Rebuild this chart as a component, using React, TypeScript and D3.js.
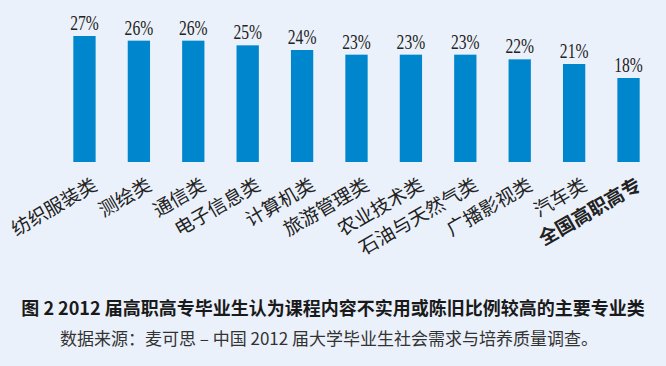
import React from 'react'
import * as d3 from 'd3'

const categories = ['纺织服装类', '测绘类', '通信类', '电子信息类', '计算机类', '旅游管理类', '农业技术类', '石油与天然气类', '广播影视类', '汽车类', '全国高职高专']
const values = [27, 26, 26, 25, 24, 23, 23, 23, 22, 21, 18]
const title = '图 2 2012 届高职高专毕业生认为课程内容不实用或陈旧比例较高的主要专业类'
const source = '数据来源：麦可思 – 中国 2012 届大学毕业生社会需求与培养质量调查。'

const W = 666
const H = 366

const x = d3.scaleBand<string>().domain(categories).range([57, 656]).paddingInner(0.59).paddingOuter(0.3)
const y = d3.scaleLinear().domain([0, 30]).range([162, 22])

const cjk = '"Noto Sans CJK SC", "Noto Sans", sans-serif'

export default function App () {
  return (
    <div>
      <style>{'body{margin:0}'}</style>
      <svg width={W} height={H} viewBox={`0 0 ${W} ${H}`} style={{ display: 'block' }}>
        <rect width={W} height={H} fill='#ebf1fa' />
        {categories.map((c, i) => {
          const cx = x(c)! + x.bandwidth() / 2
          const last = i === categories.length - 1
          return (
            <g key={c}>
              <rect x={x(c)} y={y(values[i])} width={x.bandwidth()} height={y(0) - y(values[i])} fill='#0086cd' />
              {/* condensed numerals, like the original */}
              <text
                transform={`translate(${cx},${y(values[i]) - 6}) scale(0.78,1)`} textAnchor='middle'
                fontFamily='"Liberation Serif", serif' fontSize={20} fill='#222'
              >{values[i]}%</text>
              <text
                transform={`translate(${cx + 14},189) rotate(-30)`} textAnchor='end'
                fontFamily={cjk} fontSize={19} fill='#222' fontWeight={last ? 'bold' : 'normal'}
              >{c}</text>
            </g>
          )
        })}
        <text x={333} y={315} textAnchor='middle' fontFamily={cjk} fontWeight='bold' fontSize={18} fill='#1a1a1a'>{title}</text>
        <text x={329} y={345} textAnchor='middle' fontFamily={cjk} fontSize={17} fill='#333'>{source}</text>
      </svg>
    </div>
  )
}
